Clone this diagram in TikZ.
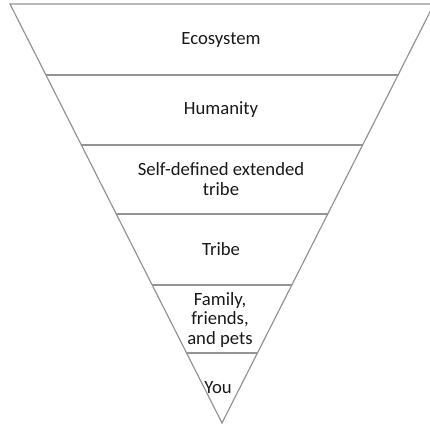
\documentclass[tikz,border=0pt]{standalone}
\usepackage{fontspec}
\setmainfont{Carlito}
\begin{document}
\begin{tikzpicture}[x=1pt,y=-1pt,
  edge/.style={draw=black!42,line width=1.2pt},
  lbl/.style={align=center,font=\fontsize{18.7}{19.5}\selectfont,text=black!90,inner sep=0pt}]
\useasboundingbox (0,0) rectangle (430,427);
\coordinate (TL) at (10,4);
\coordinate (TR) at (434,4);
\coordinate (A) at (222,423);
\draw[edge] (TL) -- (TR) -- (A) -- cycle;
\foreach \y [count=\i] in {75,145,214,285,353}{
  \coordinate (L\i) at ({10+(\y-4)*0.50597},\y);
  \coordinate (R\i) at ({434-(\y-4)*0.50597},\y);
  \draw[edge] (L\i) -- (R\i);
}
\node[lbl] (eco) at (221,40) {Ecosystem};
\node[lbl] (hum) at (221,110) {Humanity};
\node[lbl] (sdt) at (221,179) {Self-defined extended\\tribe};
\node[lbl] (tri) at (221,249) {Tribe};
\node[lbl] (fam) at (220,320) {Family,\\friends,\\and pets};
\node[lbl] (you) at (218,388) {You};
\end{tikzpicture}
\end{document}
